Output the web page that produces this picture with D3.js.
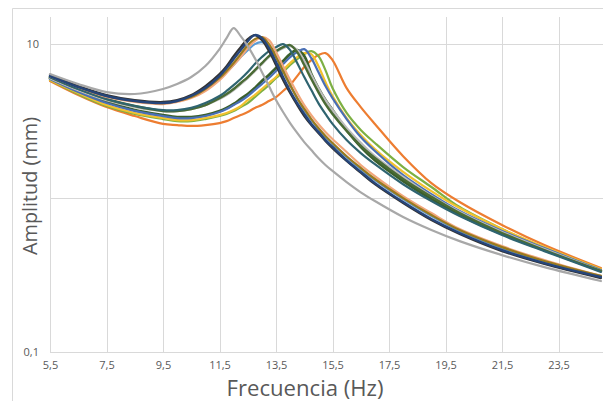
<!DOCTYPE html>
<html><head><meta charset="utf-8">
<script src="https://cdn.jsdelivr.net/npm/d3@7"></script>
<style>body{margin:0;background:#fff;} svg{display:block;}</style>
</head><body>
<svg id="c" width="603" height="401"></svg>
<script>
// ---- data ----
const freq = [5.5, 6.5, 7.5, 8.5, 9.5, 10, 10.5, 11, 11.5, 11.75, 12, 12.25, 12.5, 12.75, 13, 13.25, 13.5, 13.75, 14, 14.25, 14.5, 14.75, 15, 15.25, 15.5, 16, 16.5, 17, 18, 19, 20, 21.5, 23, 25];

const ampOrange = [5.76, 4.67, 3.90, 3.41, 3.03, 2.98, 2.94, 2.98, 3.07, 3.16, 3.31, 3.46, 3.62, 3.85, 4.02, 4.27, 4.53, 4.96, 5.42, 6.20, 7.09, 7.88, 8.49, 8.74, 7.88, 5.18, 3.90, 3.03, 1.87, 1.25, 0.942, 0.668, 0.495, 0.351];
const ampLime = [5.84, 4.74, 3.96, 3.52, 3.26, 3.16, 3.16, 3.26, 3.41, 3.52, 3.68, 3.90, 4.14, 4.53, 4.96, 5.42, 6.02, 6.58, 7.31, 7.99, 8.61, 9.01, 8.36, 6.78, 5.18, 3.57, 2.77, 2.28, 1.59, 1.18, 0.874, 0.629, 0.473, 0.341];
const ampGold = [5.84, 4.81, 4.02, 3.57, 3.31, 3.21, 3.21, 3.31, 3.46, 3.57, 3.73, 3.96, 4.33, 4.67, 5.11, 5.59, 6.11, 6.78, 7.53, 8.24, 8.74, 8.61, 7.20, 5.67, 4.60, 3.31, 2.57, 2.08, 1.48, 1.11, 0.861, 0.629, 0.480, 0.346];
const ampDarkGreen2 = [6.02, 4.96, 4.21, 3.73, 3.46, 3.36, 3.36, 3.46, 3.68, 3.85, 4.08, 4.40, 4.74, 5.18, 5.76, 6.30, 6.99, 7.76, 8.61, 9.14, 8.36, 6.39, 5.18, 4.33, 3.73, 2.77, 2.15, 1.76, 1.29, 0.985, 0.776, 0.584, 0.459, 0.336];
const ampBlue = [5.93, 4.88, 4.14, 3.68, 3.41, 3.31, 3.31, 3.41, 3.62, 3.79, 4.02, 4.27, 4.60, 5.03, 5.50, 6.02, 6.68, 7.42, 8.24, 8.87, 9.28, 8.11, 6.58, 5.34, 4.46, 3.26, 2.49, 2.02, 1.41, 1.06, 0.823, 0.611, 0.473, 0.341];
const ampLightGray = [6.02, 5.03, 4.33, 3.90, 3.68, 3.68, 3.79, 4.02, 4.40, 4.67, 5.03, 5.50, 6.02, 6.68, 7.42, 8.24, 8.87, 9.42, 9.71, 9.14, 7.76, 6.30, 5.18, 4.33, 3.73, 2.85, 2.28, 1.87, 1.37, 1.03, 0.811, 0.602, 0.466, 0.336];
const ampDarkGreen = [6.11, 5.11, 4.40, 3.96, 3.68, 3.68, 3.79, 4.02, 4.46, 4.74, 5.11, 5.59, 6.11, 6.78, 7.53, 8.36, 9.01, 9.56, 9.85, 8.87, 7.31, 5.93, 4.88, 4.08, 3.52, 2.73, 2.18, 1.82, 1.33, 1.02, 0.799, 0.593, 0.459, 0.336];
const ampTeal = [6.11, 5.11, 4.40, 3.96, 3.73, 3.73, 3.85, 4.14, 4.60, 4.96, 5.42, 5.93, 6.58, 7.42, 8.24, 9.01, 9.56, 10.00, 9.14, 7.53, 6.11, 5.03, 4.14, 3.52, 3.03, 2.38, 1.96, 1.66, 1.23, 0.956, 0.764, 0.575, 0.452, 0.331];
const ampLightBlue = [6.20, 5.26, 4.60, 4.27, 4.14, 4.27, 4.60, 5.11, 5.93, 6.58, 7.31, 8.24, 9.14, 10.00, 10.30, 9.71, 8.24, 6.68, 5.42, 4.46, 3.73, 3.21, 2.81, 2.49, 2.25, 1.84, 1.54, 1.31, 0.985, 0.764, 0.611, 0.473, 0.384, 0.307];
const ampPeach = [6.20, 5.26, 4.53, 4.21, 4.08, 4.21, 4.46, 4.96, 5.84, 6.49, 7.31, 8.24, 9.42, 10.46, 11.10, 10.62, 8.87, 7.20, 5.84, 4.81, 4.02, 3.46, 3.03, 2.69, 2.42, 1.99, 1.64, 1.39, 1.03, 0.799, 0.629, 0.487, 0.396, 0.312];
const ampDarkGold = [6.20, 5.26, 4.60, 4.27, 4.14, 4.27, 4.53, 5.11, 6.02, 6.68, 7.53, 8.61, 9.85, 10.77, 11.10, 10.00, 8.24, 6.68, 5.42, 4.46, 3.79, 3.26, 2.85, 2.53, 2.28, 1.87, 1.57, 1.33, 1.00, 0.776, 0.620, 0.480, 0.390, 0.312];
const ampDark = [6.30, 5.34, 4.67, 4.33, 4.21, 4.33, 4.67, 5.34, 6.39, 7.20, 8.36, 9.56, 10.77, 11.44, 10.62, 9.01, 7.31, 5.84, 4.81, 4.02, 3.41, 2.98, 2.65, 2.35, 2.11, 1.74, 1.46, 1.23, 0.928, 0.720, 0.584, 0.452, 0.373, 0.302];
const ampNavy = [6.20, 5.26, 4.60, 4.27, 4.14, 4.27, 4.60, 5.18, 6.20, 6.99, 7.99, 9.14, 10.46, 11.44, 10.94, 9.42, 7.64, 6.11, 4.96, 4.14, 3.52, 3.03, 2.69, 2.38, 2.15, 1.76, 1.48, 1.25, 0.942, 0.731, 0.593, 0.459, 0.378, 0.307];
const ampGray = [6.39, 5.50, 4.88, 4.74, 5.11, 5.50, 6.11, 7.20, 9.28, 10.94, 12.70, 11.27, 9.71, 8.11, 6.58, 5.34, 4.33, 3.62, 3.07, 2.65, 2.31, 2.05, 1.82, 1.64, 1.50, 1.27, 1.09, 0.956, 0.753, 0.620, 0.525, 0.426, 0.356, 0.289];

const xTicks = [5.5, 7.5, 9.5, 11.5, 13.5, 15.5, 17.5, 19.5, 21.5, 23.5];
const xTickLabels = ["5,5", "7,5", "9,5", "11,5", "13,5", "15,5", "17,5", "19,5", "21,5", "23,5"];
const yTicks = [0.1, 1, 10];
const yTickLabels = ["0,1", "", "10"];
const xTitle = "Frecuencia (Hz)";
const yTitle = "Amplitud (mm)";

// ---- series table (drawing order) ----
const series = [
  {v: ampOrange, c: "#ED7D31", w: 2.2},
  {v: ampLime, c: "#7DB043", w: 2.2},
  {v: ampGold, c: "#F2C12E", w: 2.2},
  {v: ampDarkGreen2, c: "#3A5F2C", w: 2.8},
  {v: ampBlue, c: "#4A6FB5", w: 2.2},
  {v: ampLightGray, c: "#BDBDBD", w: 2.4},
  {v: ampDarkGreen, c: "#4A6B35", w: 2.4},
  {v: ampTeal, c: "#2F6470", w: 2.2},
  {v: ampLightBlue, c: "#5B9BD5", w: 2.2},
  {v: ampPeach, c: "#F2A77C", w: 2.2},
  {v: ampDarkGold, c: "#9A7A1E", w: 2.2},
  {v: ampDark, c: "#333333", w: 2.2},
  {v: ampNavy, c: "#26457A", w: 2.4},
  {v: ampGray, c: "#A8A8A8", w: 2.2}
];

// ---- layout ----
const svg = d3.select("#c");
const L = 50, T = 17, B = 352;
const x = d3.scaleLinear().domain([5.5, 25.5]).range([L, L + 20 * 28.25]);
const y = d3.scaleLog().domain([0.1, 15]).range([B, T]);
const grid = "#D9D9D9", txt = "#595959";

// chart border
svg.append("line").attr("x1", 12.5).attr("x2", 12.5).attr("y1", 8.5).attr("y2", 401).attr("stroke", grid);
svg.append("line").attr("x1", 12.5).attr("x2", 603).attr("y1", 8.5).attr("y2", 8.5).attr("stroke", grid);

// vertical gridlines
svg.append("g").selectAll("line").data(xTicks).join("line")
  .attr("x1", d => Math.round(x(d)) + 0.5).attr("x2", d => Math.round(x(d)) + 0.5)
  .attr("y1", T).attr("y2", B).attr("stroke", grid).attr("stroke-width", 1);
// horizontal gridlines
svg.append("g").selectAll("line").data(yTicks).join("line")
  .attr("x1", L).attr("x2", 603)
  .attr("y1", d => Math.round(y(d)) + 0.5).attr("y2", d => Math.round(y(d)) + 0.5)
  .attr("stroke", grid).attr("stroke-width", 1);

// axes (labels only)
const xAxis = d3.axisBottom(x).tickValues(xTicks).tickSize(0).tickPadding(0)
  .tickFormat((d, i) => xTickLabels[i]);
const gx = svg.append("g").attr("transform", `translate(0,${B + 9})`).call(xAxis);
gx.select(".domain").remove();
gx.selectAll("text").attr("fill", txt).style("font-family", "'Open Sans', sans-serif").style("font-size", "11px");

const yAxis = d3.axisLeft(y).tickValues(yTicks).tickSize(0).tickPadding(0)
  .tickFormat((d, i) => yTickLabels[i]);
const gy = svg.append("g").attr("transform", `translate(${L - 11},0)`).call(yAxis);
gy.select(".domain").remove();
gy.selectAll("text").attr("fill", txt).style("font-family", "'Open Sans', sans-serif").style("font-size", "11px");

// lines
const line = d3.line().x((d, i) => x(freq[i])).y(d => y(d)).curve(d3.curveCatmullRom.alpha(0.5));
svg.append("g").selectAll("path").data(series).join("path")
  .attr("d", s => line(s.v)).attr("fill", "none")
  .attr("stroke", s => s.c).attr("stroke-width", s => s.w)
  .attr("stroke-linejoin", "round").attr("stroke-linecap", "round");

// titles
svg.append("text").attr("x", 305).attr("y", 396).attr("text-anchor", "middle")
  .attr("fill", txt).style("font-family", "'Open Sans', sans-serif").style("font-size", "21px")
  .attr("textLength", 157).attr("lengthAdjust", "spacingAndGlyphs").text(xTitle);
svg.append("text").attr("transform", "translate(37,186) rotate(-90)").attr("text-anchor", "middle")
  .attr("fill", txt).style("font-family", "'Open Sans', sans-serif").style("font-size", "20px")
  .attr("textLength", 138).attr("lengthAdjust", "spacingAndGlyphs").text(yTitle);
</script>
</body></html>
